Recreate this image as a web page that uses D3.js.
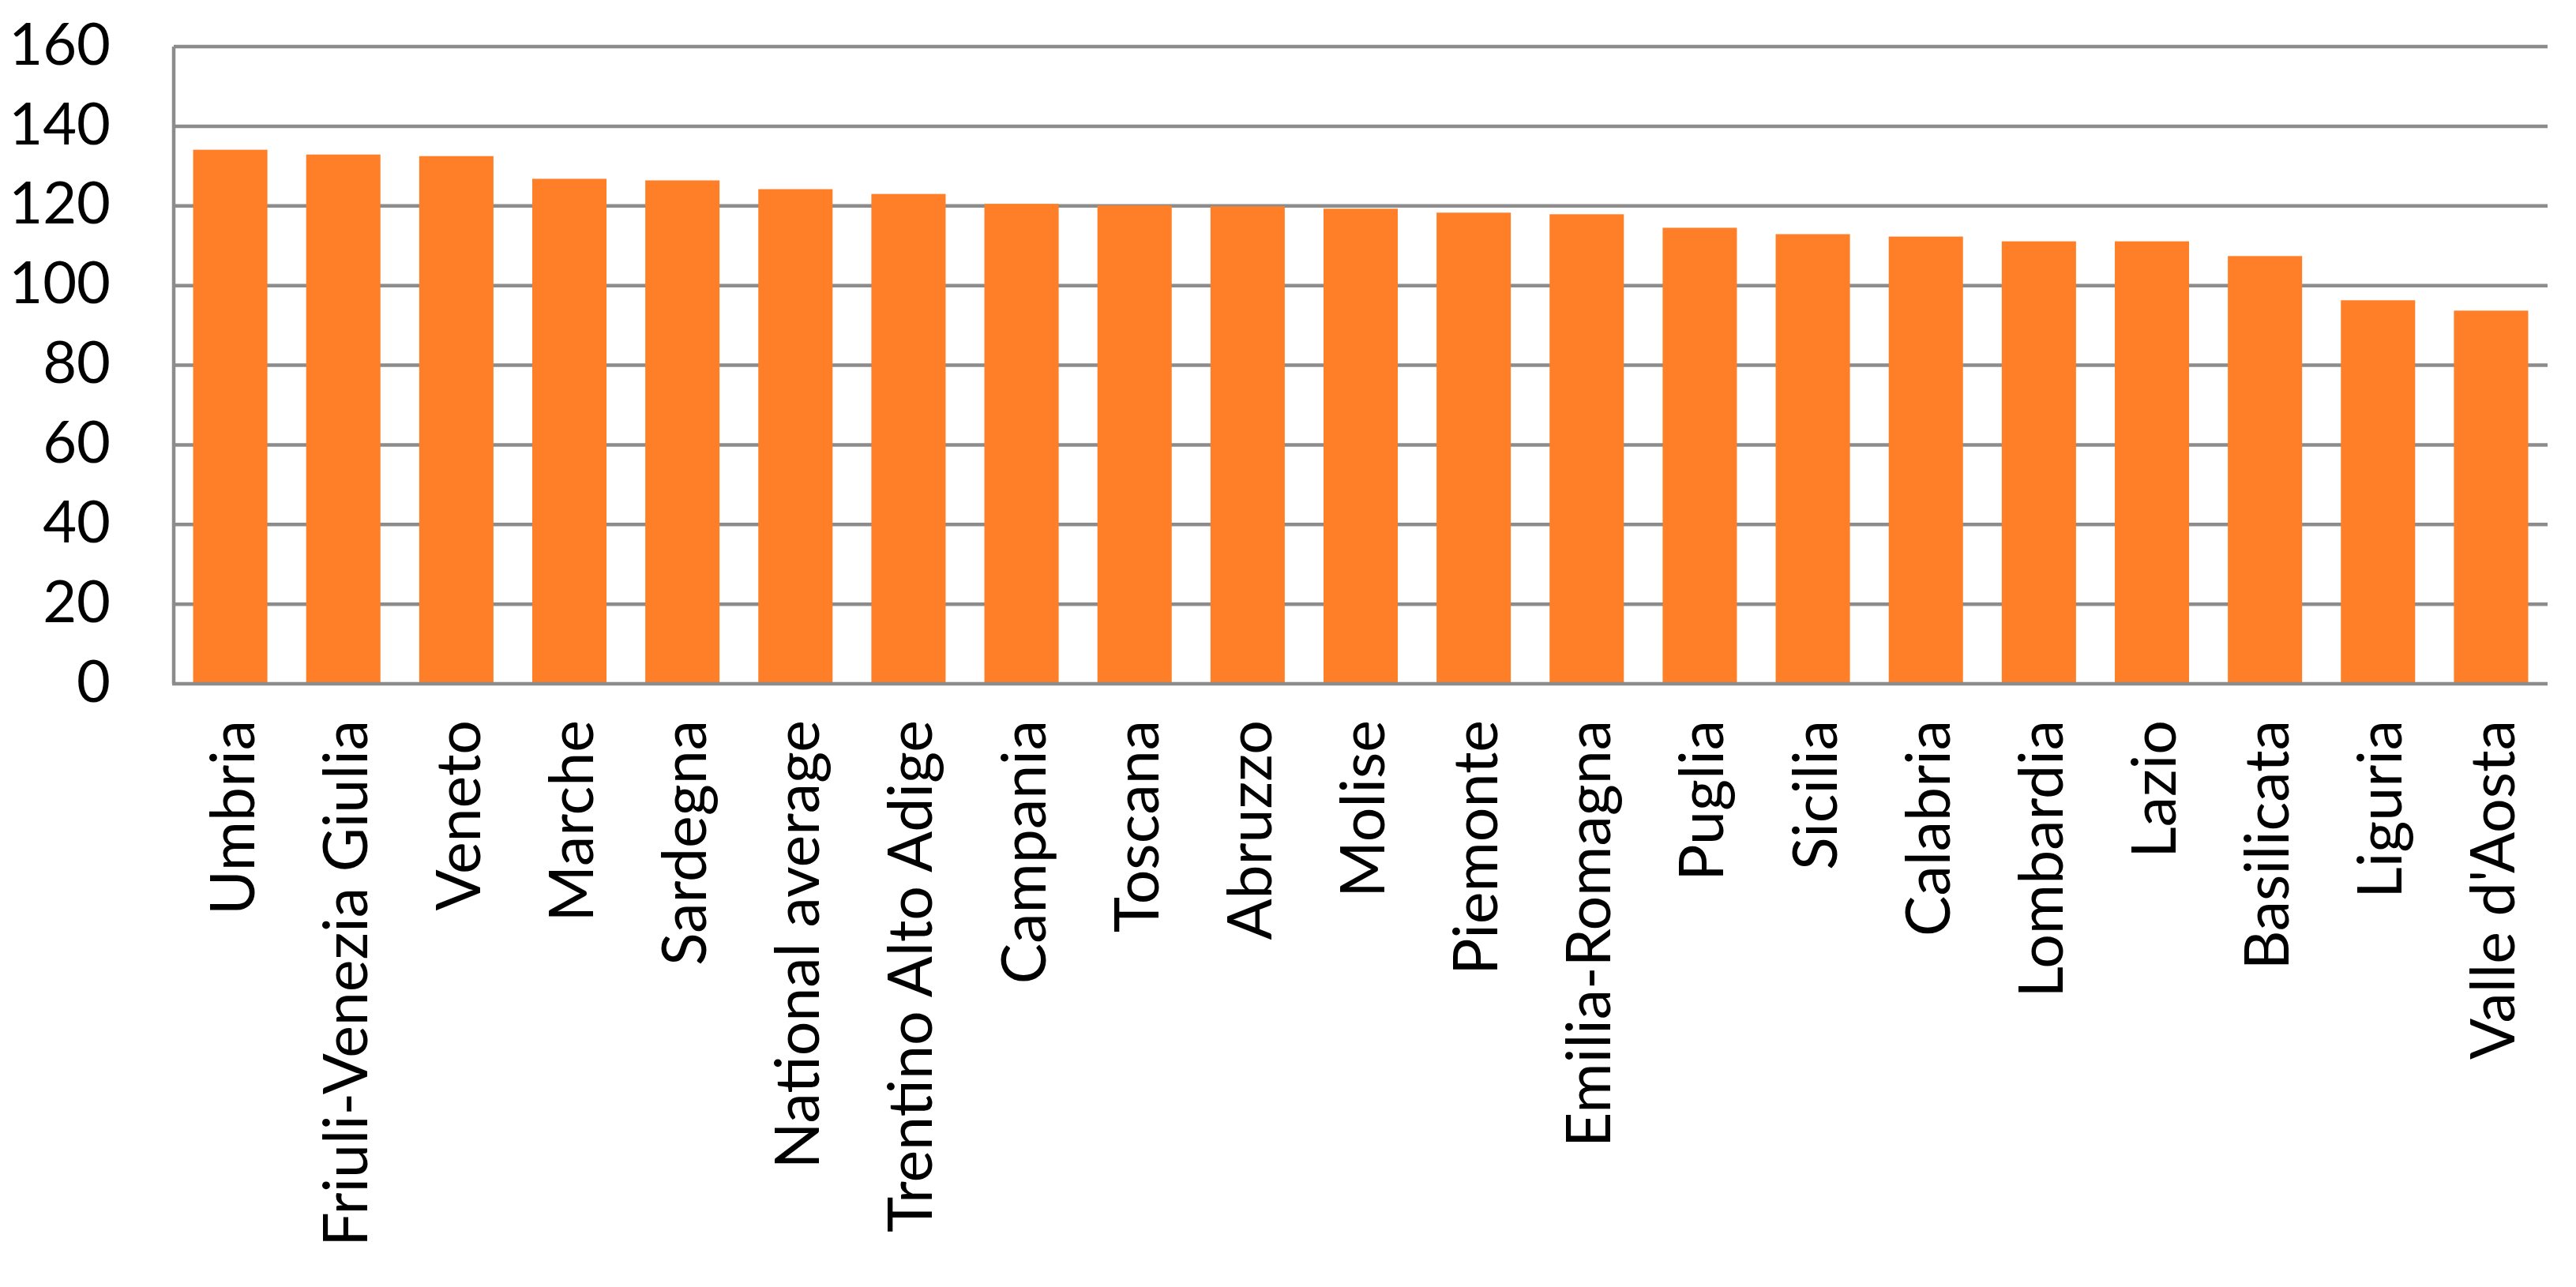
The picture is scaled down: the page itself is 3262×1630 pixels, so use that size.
<!DOCTYPE html>
<html>
<head>
<meta charset="utf-8">
<script src="https://cdn.jsdelivr.net/npm/d3@7"></script>
<style>
  html, body { margin: 0; padding: 0; background: #ffffff; }
  svg { display: block; }
  text { font-family: Lato, "Open Sans", sans-serif; fill: #000; }
</style>
</head>
<body>
<svg id="chart" width="3262" height="1630"></svg>
<script>
const categories = ["Umbria", "Friuli-Venezia Giulia", "Veneto", "Marche", "Sardegna",
  "National average", "Trentino Alto Adige", "Campania", "Toscana", "Abruzzo", "Molise",
  "Piemonte", "Emilia-Romagna", "Puglia", "Sicilia", "Calabria", "Lombardia", "Lazio",
  "Basilicata", "Liguria", "Valle d'Aosta"];
const values = [134.1, 132.9, 132.5, 126.8, 126.4, 124.2, 123.0, 120.5, 120.1, 119.9, 119.3,
  118.3, 117.9, 114.5, 112.9, 112.3, 111.1, 111.1, 107.4, 96.3, 93.7];
const yTicks = [0, 20, 40, 60, 80, 100, 120, 140, 160];

const W = 3262, H = 1630;
const margin = { left: 220, right: 36, top: 59, bottom: 764 };
const svg = d3.select("#chart");

const x = d3.scaleBand()
  .domain(categories)
  .range([margin.left, W - margin.right])
  .paddingInner(0.343)
  .paddingOuter(0.1715);

const y = d3.scaleLinear()
  .domain([0, 160])
  .range([H - margin.bottom, margin.top]);

const gridColor = "#8c8c8c";

// gridlines
svg.append("g").selectAll("line")
  .data(yTicks.filter(d => d > 0))
  .join("line")
  .attr("x1", margin.left)
  .attr("x2", W - margin.right)
  .attr("y1", d => y(d))
  .attr("y2", d => y(d))
  .attr("stroke", gridColor)
  .attr("stroke-width", 4.5);

// bars
svg.append("g").selectAll("rect")
  .data(values)
  .join("rect")
  .attr("x", (d, i) => x(categories[i]))
  .attr("width", x.bandwidth())
  .attr("y", d => y(d))
  .attr("height", d => y(0) - y(d))
  .attr("fill", "#fe7f27");

// y axis
const yAxis = svg.append("g")
  .attr("transform", `translate(${margin.left},0)`)
  .call(d3.axisLeft(y).tickValues(yTicks).tickSize(0).tickPadding(80).tickFormat(d3.format("d")));
yAxis.select(".domain")
  .attr("stroke", gridColor)
  .attr("stroke-width", 4.5)
  .attr("d", `M0,${y(160)}V${y(0)}`);
yAxis.selectAll("text")
  .attr("font-family", "Lato, sans-serif")
  .attr("font-size", 74)
  .attr("dy", "0.3em")
  .style("fill", "#000");

// x axis
const xAxis = svg.append("g")
  .attr("transform", `translate(0,${y(0)})`)
  .call(d3.axisBottom(x).tickSize(0).tickPadding(0));
xAxis.select(".domain")
  .attr("stroke", gridColor)
  .attr("stroke-width", 4.5)
  .attr("d", `M${margin.left - 2},0H${W - margin.right}`);
xAxis.selectAll("text")
  .attr("font-family", "Lato, sans-serif")
  .attr("font-size", 77)
  .attr("text-anchor", "end")
  .attr("transform", "rotate(-90)")
  .attr("x", -46)
  .attr("y", 0)
  .attr("dy", "0.39em")
  .style("fill", "#000");
</script>
</body>
</html>
